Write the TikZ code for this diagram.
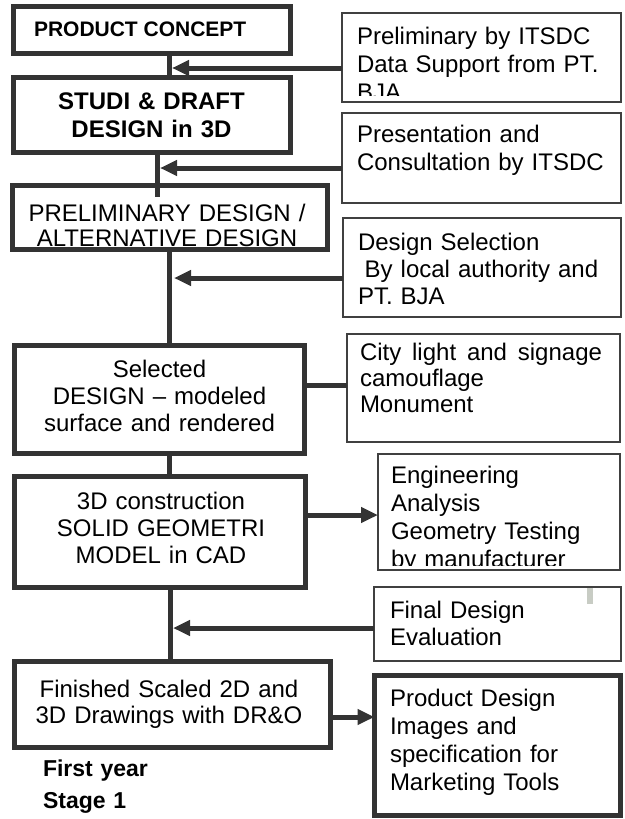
\documentclass[tikz,border=0pt]{standalone}
\usepackage{fontspec}
\setmainfont{Liberation Sans}
\usetikzlibrary{arrows.meta,calc}
\definecolor{dk}{HTML}{333333}
\definecolor{bd}{HTML}{404040}
\definecolor{markgray}{HTML}{C8CCC4}
\begin{document}
\begin{tikzpicture}[x=1pt,y=-1pt,
  thickbox/.style={draw=dk, line width=5pt, rectangle, inner sep=0pt, outer sep=0pt},
  thinbox/.style={draw=bd, line width=1.8pt, rectangle, inner sep=0pt, outer sep=0pt},
  conn/.style={draw=dk, line width=5pt},
  arr/.style={conn, -{Triangle[length=17pt,width=15pt]}},
  txt/.style={inner sep=0pt, outer sep=0pt, text=black, font=\fontsize{24}{27}\selectfont},
  ltxt/.style={txt, anchor=base west, align=left},
  ctxt/.style={txt, anchor=base, align=center},
]
\useasboundingbox (0,0) rectangle (624,819);
\fill[white] (0,0) rectangle (624,819);

% ---- text of right boxes (clipped where needed) ----
\begin{scope}
  \clip (342,13) rectangle (621,95);
  \node[ltxt, text width=262pt, font=\fontsize{24}{28}\selectfont] (tp1) at (357,44) {Preliminary by ITSDC\\Data Support from PT.\\BJA};
\end{scope}
\node[ltxt, text width=262pt, font=\fontsize{24}{28.5}\selectfont] (tp2) at (357,142) {Presentation and\\Consultation by ITSDC};
\node[ltxt, text width=262pt, font=\fontsize{24}{27}\selectfont] (tp3) at (358,250) {Design Selection\\\hspace*{6.7pt}By local authority and\\PT. BJA};
\node[ltxt, text width=242pt, align=justify, font=\fontsize{24}{26}\selectfont] (tcl) at (360,360) {City light and signage\linebreak camouflage\\Monument};
\begin{scope}
  \clip (378,454) rectangle (620,565);
  \node[ltxt, text width=225pt, font=\fontsize{24}{28}\selectfont] (teng) at (391,483) {Engineering\\Analysis\\Geometry Testing\\by manufacturer};
\end{scope}
\node[ltxt, text width=225pt] (tfin) at (390,618) {Final Design\\Evaluation};
\node[ltxt, text width=225pt, font=\fontsize{24}{28}\selectfont] (tpd) at (390,706) {Product Design\\Images and\\specification for\\Marketing Tools};

% ---- right boxes ----
\node[thinbox, minimum width=279pt, minimum height=89pt] (p1) at (481.5,57.5) {};
\node[thinbox, minimum width=279pt, minimum height=90pt] (p2) at (481.5,158) {};
\node[thinbox, minimum width=278pt, minimum height=99pt] (p3) at (482,267.5) {};
\node[thinbox, minimum width=273pt, minimum height=108pt] (cl) at (483.5,388) {};
\node[thinbox, minimum width=242pt, minimum height=116pt] (eng) at (499,512) {};
\node[thinbox, minimum width=247pt, minimum height=74pt] (fin) at (497.5,624) {};
\fill[markgray] (587,588) rectangle (593,604);
\node[thickbox, minimum width=246pt, minimum height=140pt] (pd) at (497.5,745.5) {};

% ---- left boxes ----
\node[thickbox, minimum width=277pt, minimum height=47.5pt] (b1) at (152,29.75) {};
\node[thickbox, minimum width=276.5pt, minimum height=75pt] (b2) at (151.75,115) {};
\node[thickbox, minimum width=314.5pt, minimum height=64pt] (b3) at (169.75,217.5) {};
\node[thickbox, minimum width=290pt, minimum height=108pt] (b4) at (159.5,399.5) {};
\node[thickbox, minimum width=291pt, minimum height=111pt] (b5) at (160,532) {};
\node[thickbox, minimum width=315.5pt, minimum height=86pt] (b6) at (172.25,704.5) {};

\node[txt, anchor=base west, font=\fontsize{21}{25}\selectfont\bfseries] (t1) at (34,36) {PRODUCT CONCEPT};
\node[ctxt, text width=270pt, font=\fontsize{24}{28}\selectfont\bfseries] (t2) at (151.5,109) {STUDI \& DRAFT\\DESIGN in 3D};
\node[ctxt, text width=305pt, font=\fontsize{24}{25}\selectfont] (t3) at (167,221) {PRELIMINARY DESIGN /\\ALTERNATIVE DESIGN};
\node[ctxt, text width=285pt] (t4) at (159.5,377) {Selected\\DESIGN -- modeled\\surface and rendered};
\node[ctxt, text width=285pt] (t5) at (161,509) {3D construction\\SOLID GEOMETRI\\MODEL in CAD};
\node[ctxt, text width=310pt, font=\fontsize{24}{26}\selectfont] (t6) at (169,697) {Finished Scaled 2D and\\3D Drawings with DR\&O};
\node[txt, anchor=base west, align=left, text width=200pt, font=\fontsize{23}{32}\selectfont\bfseries] (t7) at (43,776) {First year\\Stage 1};

% ---- connector helpers ----
\coordinate (v1) at (169.5,0);
\coordinate (v2) at (157.5,0);
\coordinate (v3) at (169,0);
\coordinate (v4) at (169,0);
\coordinate (v5) at (170.5,0);
\coordinate (v2end) at (157.5,197);
\coordinate (a1) at (172,68);
\coordinate (a2) at (160,168);
\coordinate (a3) at (174,278);
\coordinate (a5) at (173,628);
\coordinate (k4) at (0,385);
\coordinate (k5) at (0,515);
\coordinate (k6) at (0,717);

% vertical links
\draw[conn] (b1.south -| v1) -- (b2.north -| v1);
\draw[conn] (b2.south -| v2) -- (v2end);
\draw[conn] (b3.south -| v3) -- (b4.north -| v3);
\draw[conn] (b4.south -| v4) -- (b5.north -| v4);
\draw[conn] (b5.south -| v5) -- (b6.north -| v5);

% arrows from right boxes
\draw[arr] (p1.west |- a1) -- (a1);
\draw[arr] (p2.west |- a2) -- (a2);
\draw[arr] (p3.west |- a3) -- (a3);
\draw[arr] (fin.west |- a5) -- (a5);

% links to right boxes
\draw[conn] (b4.east |- k4) -- (cl.west |- k4);
\draw[arr] (b5.east |- k5) -- (eng.west |- k5);
\draw[arr] (b6.east |- k6) -- (pd.west |- k6);
\end{tikzpicture}
\end{document}
